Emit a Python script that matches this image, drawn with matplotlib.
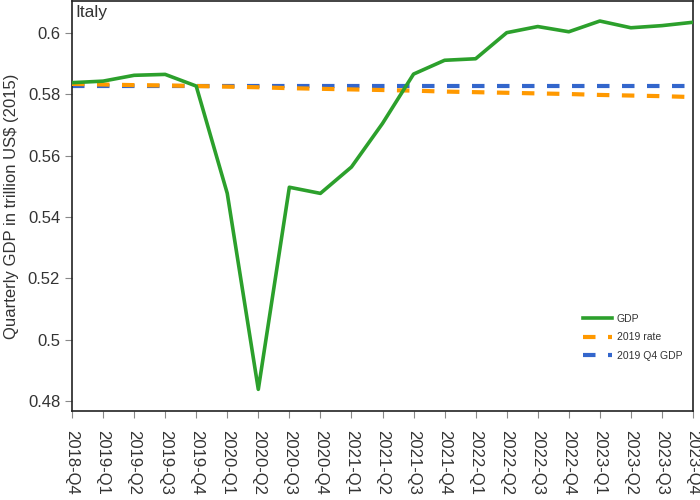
import numpy as np
import matplotlib
matplotlib.use("Agg")
import matplotlib.pyplot as plt
from matplotlib.ticker import FuncFormatter

plt.rcParams['font.family'] = ['Liberation Sans', 'DejaVu Sans']

# quarters shown on the x axis
quarters = ['2018-Q4', '2019-Q1', '2019-Q2', '2019-Q3', '2019-Q4',
            '2020-Q1', '2020-Q2', '2020-Q3', '2020-Q4',
            '2021-Q1', '2021-Q2', '2021-Q3', '2021-Q4',
            '2022-Q1', '2022-Q2', '2022-Q3', '2022-Q4',
            '2023-Q1', '2023-Q2', '2023-Q3', '2023-Q4']

# GDP in trillion US$ (2015)
gdp = [0.5838, 0.5843, 0.5862, 0.5865, 0.5827,
       0.5477, 0.4838, 0.5497, 0.5477,
       0.5563, 0.5705, 0.5866, 0.5911,
       0.5916, 0.6001, 0.6021, 0.6004,
       0.6039, 0.6017, 0.6024, 0.6035]

# trend continuing the 2019 growth rate
rate_2019 = [0.5834, 0.5832, 0.5830, 0.5829, 0.5827,
             0.5825, 0.5823, 0.5820, 0.5818,
             0.5816, 0.5814, 0.5812, 0.5809,
             0.5807, 0.5805, 0.5803, 0.5801,
             0.5798, 0.5796, 0.5794, 0.5791]

# flat line at the 2019 Q4 level
q4_2019 = [0.5827] * len(quarters)

text_col = '#333333'

fig = plt.figure(figsize=(7, 5), dpi=100)
ax = fig.add_axes([72 / 700, 1 - 411 / 500, (693 - 72) / 700, 410 / 500])

x = np.arange(len(quarters))
ax.plot(x, q4_2019, color='#3366cc', lw=3, dashes=(3, 3), label='2019 Q4 GDP', zorder=2)
ax.plot(x, rate_2019, color='#ff9900', lw=3, dashes=(3, 3), label='2019 rate', zorder=3)
ax.plot(x, gdp, color='#2ca02c', lw=2.6, label='GDP', zorder=4)

ax.set_xlim(0, len(quarters) - 1)
ax.set_ylim(0.47674, 0.61043)
ax.set_xticks(x)
ax.set_xticklabels(quarters, rotation=-90, fontsize=12, color=text_col)
ax.set_yticks([0.48, 0.5, 0.52, 0.54, 0.56, 0.58, 0.6])
ax.yaxis.set_major_formatter(FuncFormatter(lambda v, p: f'{v:g}'))
ax.tick_params(axis='y', labelsize=12, labelcolor=text_col, color='#888888', length=5)
ax.tick_params(axis='x', color='#888888', length=5, pad=9)
for s in ax.spines.values():
    s.set_color('#222222')
    s.set_linewidth(1.2)

ax.set_ylabel('Quarterly GDP in trillion US$ (2015)', fontsize=12, color=text_col, labelpad=6)
ax.text(0.005, 0.99, 'Italy', transform=ax.transAxes, ha='left', va='top',
        fontsize=12.5, color=text_col)

handles, labels = ax.get_legend_handles_labels()
order = [2, 1, 0]
ax.legend([handles[i] for i in order], [labels[i] for i in order],
          loc='lower left', bbox_to_anchor=(0.807, 0.10), frameon=False,
          fontsize=7.5, handlelength=2.8, labelspacing=0.8, handletextpad=0.5,
          labelcolor=text_col)

fig.savefig('out.png', dpi=100)
